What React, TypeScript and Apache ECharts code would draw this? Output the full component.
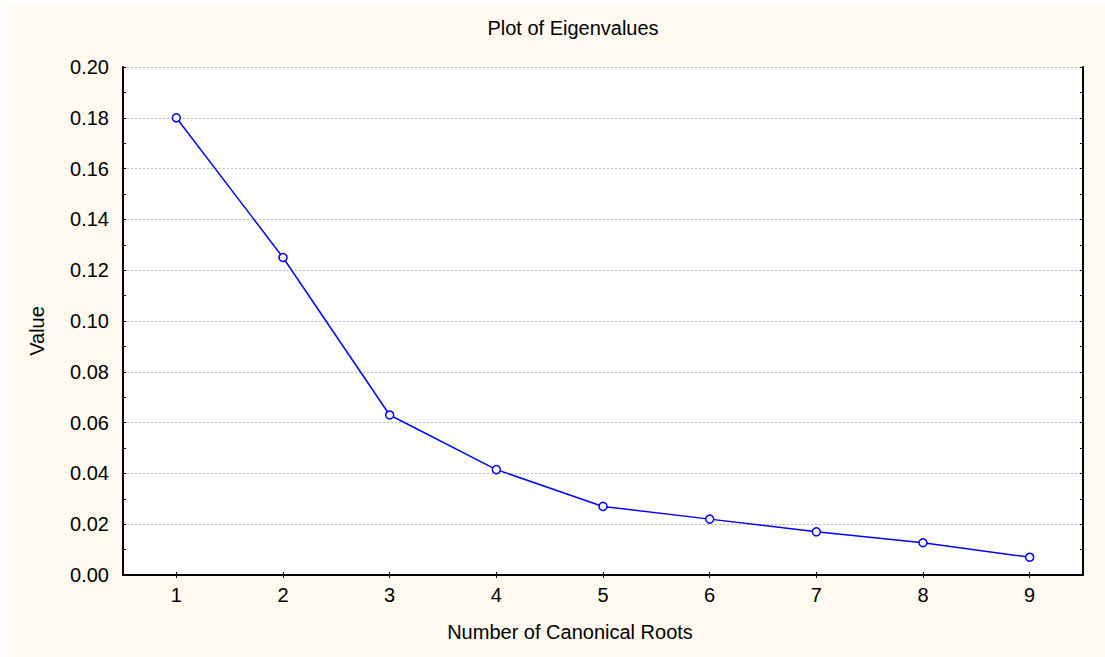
import React, { useEffect, useRef } from "react";
import * as echarts from "echarts";

const roots = ["1", "2", "3", "4", "5", "6", "7", "8", "9"];
const eigenvalues = [0.18, 0.125, 0.063, 0.0415, 0.027, 0.022, 0.017, 0.0127, 0.007];
const yTicks = { min: 0, max: 0.2, interval: 0.02 };
const titleText = "Plot of Eigenvalues";
const xName = "Number of Canonical Roots";
const yName = "Value";

const FONT = "'Liberation Sans', Arial, sans-serif";

export default function App() {
  const ref = useRef<HTMLDivElement>(null);
  useEffect(() => {
    if (!ref.current) return;
    const chart = echarts.init(ref.current, null, { renderer: "svg" });
    const axisLine = { show: true, lineStyle: { color: "#000", width: 2 } };
    const tick = { show: true, inside: true, length: 3, lineStyle: { color: "#000", width: 1 } };
    chart.setOption({
      animation: false,
      backgroundColor: "#FFFAF0",
      textStyle: { fontFamily: FONT },
      title: {
        text: titleText,
        left: 565,
        top: 14,
        padding: 0,
        textAlign: "center",
        textStyle: { fontFamily: FONT, fontSize: 20, fontWeight: "normal", color: "#000" },
      },
      grid: {
        left: 115,
        top: 63,
        right: 22,
        bottom: 82,
        show: true,
        backgroundColor: "#ffffff",
        borderWidth: 0,
      },
      xAxis: [
        {
          type: "category",
          position: "bottom",
          data: roots,
          boundaryGap: true,
          axisLine,
          axisTick: { ...tick, alignWithLabel: true },
          axisLabel: { color: "#000", fontSize: 20, fontFamily: FONT, margin: 10 },
          splitLine: { show: false },
          name: xName,
          nameLocation: "middle",
          nameGap: 47,
          nameTextStyle: { color: "#000", fontSize: 20, fontFamily: FONT, padding: [0, 66, 0, 0] },
        },
        {
          type: "category",
          position: "top",
          data: roots,
          boundaryGap: true,
          axisLine,
          axisTick: { ...tick, alignWithLabel: true },
          axisLabel: { show: false },
          splitLine: { show: false },
        },
      ],
      yAxis: [
        {
          type: "value",
          position: "left",
          min: yTicks.min,
          max: yTicks.max,
          interval: yTicks.interval,
          axisLine,
          axisTick: tick,
          minorTick: { show: true, splitNumber: 2, length: 3, lineStyle: { color: "#000", width: 1 } },
          axisLabel: {
            color: "#000",
            fontSize: 20,
            fontFamily: FONT,
            margin: 14,
            formatter: (v: number) => v.toFixed(2),
          },
          splitLine: { show: true, lineStyle: { color: "#b8b8b8", width: 1, type: [2, 2] } },
          name: yName,
          nameLocation: "middle",
          nameGap: 76,
          nameRotate: 90,
          nameTextStyle: { color: "#000", fontSize: 20, fontFamily: FONT, padding: [0, 20, 0, 0] },
        },
        {
          type: "value",
          position: "right",
          min: yTicks.min,
          max: yTicks.max,
          interval: yTicks.interval,
          axisLine,
          axisTick: tick,
          minorTick: { show: true, splitNumber: 2, length: 3, lineStyle: { color: "#000", width: 1 } },
          axisLabel: { show: false },
          splitLine: { show: false },
        },
      ],
      series: [
        {
          type: "line",
          data: eigenvalues,
          xAxisIndex: 0,
          yAxisIndex: 0,
          symbol: "circle",
          symbolSize: 8,
          showAllSymbol: true,
          lineStyle: { color: "#0000ff", width: 1.5 },
          itemStyle: { color: "#ffffff", borderColor: "#0000ff", borderWidth: 1.5 },
          emphasis: { disabled: true },
          z: 5,
        },
      ],
    });
    return () => chart.dispose();
  }, []);
  return (
    <div
      ref={ref}
      style={{ position: "absolute", left: 8, top: 4, width: 1097, height: 653 }}
    />
  );
}
